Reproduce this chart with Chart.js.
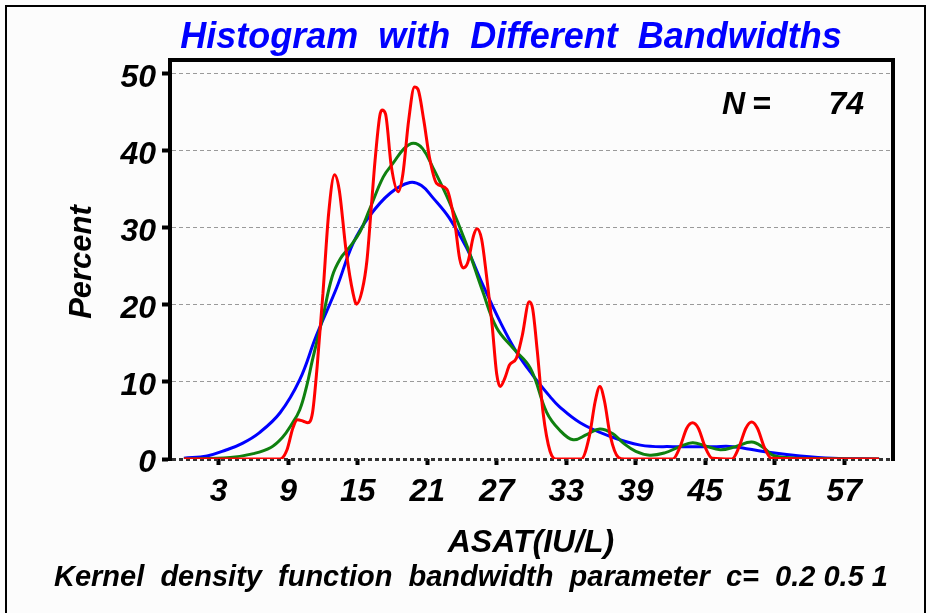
<!DOCTYPE html>
<html>
<head>
<meta charset="utf-8">
<script src="https://cdn.jsdelivr.net/npm/chart.js@4.4.1/dist/chart.umd.min.js"></script>
<style>
  body { margin: 0; background: #fcfcfc; }
  canvas { display: block; }
</style>
</head>
<body>
<canvas id="chartKernel" width="930" height="613"></canvas>
<script>
// tick labels
var ticksX = [3, 9, 15, 21, 27, 33, 39, 45, 51, 57]
var ticksY = [0, 10, 20, 30, 40, 50]

// c = 0.2 (red)
var redX = [0, 8.3, 8.9, 9.4, 9.8, 10.3, 10.7, 11.1, 11.5, 12.0, 12.5, 13.0, 13.4, 14.0, 14.6, 14.9, 15.4, 15.8, 16.2, 16.5, 16.9, 17.1, 17.4, 17.9, 18.5, 18.9, 19.4, 19.9, 20.2, 20.7, 21.2, 21.8, 22.7, 23.4, 23.8, 24.1, 24.5, 25.0, 25.3, 25.7, 26.1, 26.6, 27.0, 27.3, 27.7, 28.1, 28.7, 29.2, 29.8, 30.1, 30.5, 31.0, 31.6, 32.2, 34.3, 35.0, 35.5, 35.9, 36.3, 36.8, 37.5, 38.0, 42.2, 42.8, 43.4, 43.9, 44.4, 45.0, 45.6, 47.3, 47.9, 48.5, 49.0, 49.5, 50.1, 50.7, 60]
var redY = [0, 0, 1.2, 4.0, 5.1, 4.9, 4.7, 6.0, 12.0, 21.5, 32.0, 36.9, 35.0, 27.0, 21.5, 20.1, 22.0, 25.8, 33.2, 38.8, 44.5, 45.3, 44.8, 38.0, 34.7, 37.0, 44.0, 48.3, 48.0, 44.0, 39.1, 35.8, 35.0, 30.4, 26.0, 24.8, 25.5, 29.0, 29.9, 28.5, 24.0, 17.4, 11.0, 9.4, 10.5, 12.2, 13.1, 16.0, 20.4, 19.5, 14.0, 6.0, 1.0, 0, 0, 3.0, 7.5, 9.4, 7.5, 3.0, 0.2, 0, 0, 1.5, 4.0, 4.7, 4.0, 1.5, 0.1, 0, 1.5, 4.0, 4.8, 4.0, 1.5, 0.1, 0]

// c = 0.5 (green)
var greenX = [0, 4, 6, 7.5, 8.5, 9.3, 10.0, 10.6, 11.1, 12.0, 12.8, 13.5, 14.3, 15.2, 16.0, 17.2, 18.1, 19.0, 19.8, 20.6, 21.5, 22.9, 24.4, 25.8, 27.0, 28.4, 29.9, 31.3, 32.4, 33.6, 34.8, 35.9, 37.0, 37.9, 39.0, 40.2, 41.5, 42.8, 43.9, 45.0, 46.3, 47.6, 49.0, 50.0, 50.8, 52.0, 54.0, 60]
var greenY = [0, 0.2, 0.7, 1.5, 2.8, 4.5, 6.4, 9.5, 12.9, 18.5, 23.7, 26.0, 27.5, 29.5, 32.3, 36.6, 38.5, 40.3, 41.0, 40.3, 37.8, 33.4, 27.8, 21.7, 17.0, 14.4, 11.8, 6.1, 3.8, 2.5, 3.2, 3.9, 3.3, 2.1, 1.0, 0.5, 0.8, 1.6, 2.1, 1.7, 1.2, 1.6, 2.2, 1.5, 0.5, 0.2, 0.05, 0]

// c = 1 (blue)
var blueX = [0, 2, 3.7, 5, 6.5, 8.3, 10.0, 11.4, 13.2, 14.6, 16.0, 17.8, 19.5, 20.5, 21.5, 22.9, 24.4, 25.8, 27.3, 28.7, 30.1, 31.6, 32.4, 34.2, 36.5, 39.4, 42.2, 45.7, 47.4, 50.3, 53.2, 56.0, 60]
var blueY = [0.1, 0.4, 1.2, 2.0, 3.4, 6.0, 10.3, 15.9, 22.3, 28.0, 31.5, 34.5, 35.9, 35.5, 33.9, 31.3, 27.4, 22.6, 17.8, 13.9, 10.9, 8.1, 6.8, 4.7, 3.1, 1.8, 1.6, 1.6, 1.6, 0.9, 0.4, 0.1, 0]

var sampleSize = 74

function toPoints(xs, ys){
    return xs.map(function(x, i){ return {x: x, y: ys[i]} })
}

var fontBI = function(size){ return 'italic bold ' + size + 'px "Liberation Sans", Arial, sans-serif' }

var textosPlugin = {
    id: 'textos',
    beforeDraw: function(chart){
        let ctx = chart.ctx
        ctx.save()
        ctx.fillStyle = '#fcfcfc'
        ctx.fillRect(0, 0, chart.width, chart.height)
        ctx.strokeStyle = '#000'
        ctx.lineWidth = 2
        ctx.beginPath()
        ctx.moveTo(6, 613)
        ctx.lineTo(6, 6)
        ctx.lineTo(925, 6)
        ctx.lineTo(925, 613)
        ctx.stroke()
        ctx.restore()
    },
    afterDraw: function(chart){
        let ctx = chart.ctx
        let a = chart.chartArea
        ctx.save()
        // top and right frame
        ctx.strokeStyle = '#000'
        ctx.lineWidth = 4
        ctx.beginPath()
        ctx.moveTo(a.left - 2, a.top)
        ctx.lineTo(a.right, a.top)
        ctx.lineTo(a.right, a.bottom + 2)
        ctx.stroke()

        ctx.textBaseline = 'middle'
        ctx.textAlign = 'center'
        ctx.fillStyle = '#0000ff'
        ctx.font = fontBI(36)
        ctx.fillText('Histogram  with  Different  Bandwidths', 511, 38)

        ctx.fillStyle = '#000'
        ctx.font = fontBI(32)
        ctx.fillText('ASAT(IU/L)', 531, 543)

        ctx.font = fontBI(29)
        ctx.fillText('Kernel  density  function  bandwidth  parameter  c=  0.2 0.5 1', 471, 578)

        ctx.font = fontBI(32)
        ctx.textAlign = 'left'
        ctx.fillText('N', 722, 105)
        ctx.fillText('=', 752, 105)
        ctx.textAlign = 'right'
        ctx.fillText(String(sampleSize), 864, 105)

        ctx.translate(82, 262)
        ctx.rotate(-Math.PI / 2)
        ctx.textAlign = 'center'
        ctx.font = fontBI(31)
        ctx.fillText('Percent', 0, 0)
        ctx.restore()
    }
}

var ctx = document.getElementById('chartKernel')
var chartKernel = new Chart(ctx, {
    type: 'line',
    data: {
        datasets: [{
            label: 'c=0.2',
            data: toPoints(redX, redY),
            borderColor: '#ff0000',
            borderWidth: 3,
            pointRadius: 0,
            cubicInterpolationMode: 'monotone'
        }, {
            label: 'c=0.5',
            data: toPoints(greenX, greenY),
            borderColor: '#0f800f',
            borderWidth: 3,
            pointRadius: 0,
            tension: 0.4
        }, {
            label: 'c=1',
            data: toPoints(blueX, blueY),
            borderColor: '#0000ff',
            borderWidth: 3,
            pointRadius: 0,
            tension: 0.4
        }]
    },
    options: {
        responsive: false,
        animation: false,
        layout: { padding: { left: 0, top: 60, right: 37, bottom: 0 } },
        plugins: {
            legend: { display: false },
            title: { display: false },
            tooltip: { enabled: false }
        },
        scales: {
            x: {
                type: 'linear',
                min: -1.2,
                max: 61.2,
                afterFit: function(scale){ scale.height = 154 },
                afterBuildTicks: function(scale){
                    scale.ticks = ticksX.map(function(v){ return {value: v} })
                },
                border: { display: false },
                grid: {
                    drawOnChartArea: false,
                    drawTicks: true,
                    tickLength: 6,
                    tickWidth: 4,
                    tickColor: '#000'
                },
                ticks: {
                    color: '#000',
                    padding: 8,
                    maxRotation: 0,
                    autoSkip: false,
                    font: { family: '"Liberation Sans", Arial, sans-serif', size: 32, style: 'italic', weight: 'bold' }
                }
            },
            y: {
                min: 0,
                max: 51.8,
                afterFit: function(scale){ scale.width = 170 },
                afterBuildTicks: function(scale){
                    scale.ticks = ticksY.map(function(v){ return {value: v} })
                },
                border: { display: true, color: '#000', width: 4, dash: [4, 3] },
                grid: {
                    color: function(c){ return (c.tick && c.tick.value === 0) ? '#333' : '#9a9a9a' },
                    lineWidth: function(c){ return (c.tick && c.tick.value === 0) ? 3 : 1 },
                    tickColor: '#000',
                    tickWidth: 4,
                    tickLength: 8
                },
                ticks: {
                    color: '#000',
                    padding: 6,
                    labelOffset: 4,
                    font: { family: '"Liberation Sans", Arial, sans-serif', size: 32, style: 'italic', weight: 'bold' }
                }
            }
        }
    },
    plugins: [textosPlugin]
})
</script>
</body>
</html>
